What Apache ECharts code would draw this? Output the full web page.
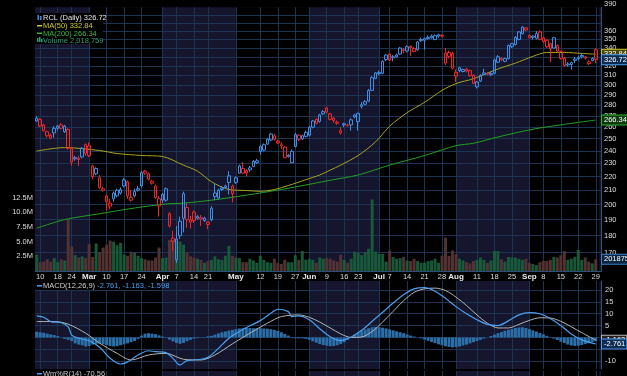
<!DOCTYPE html>
<html>
<head>
<meta charset="utf-8">
<script src="https://cdn.jsdelivr.net/npm/echarts@6.0.0/dist/echarts.min.js"></script>
<style>
  html, body { margin: 0; padding: 0; background: #000; }
  #chart { width: 627px; height: 376px; }
</style>
</head>
<body>
<div id="chart"></div>
<script>
// market holidays inside the window
const holidays = ['2025-02-17', '2025-04-18', '2025-05-26', '2025-06-19', '2025-07-04', '2025-09-01'];

function tradingDays(from, to) {
  const out = [];
  const d = new Date(from + 'T00:00:00Z');
  const end = new Date(to + 'T00:00:00Z');
  while (d <= end) {
    const s = d.toISOString().slice(0, 10);
    const wd = d.getUTCDay();
    if (wd !== 0 && wd !== 6 && holidays.indexOf(s) < 0) out.push(s);
    d.setUTCDate(d.getUTCDate() + 1);
  }
  return out;
}
// last slot (Sep 30) stays empty
const dates = tradingDays('2025-02-07', '2025-09-30');

const tickDates = ['2025-02-10', '2025-02-18', '2025-02-24', '2025-03-03', '2025-03-10', '2025-03-17', '2025-03-24',
  '2025-04-01', '2025-04-07', '2025-04-14', '2025-04-21', '2025-05-01', '2025-05-12', '2025-05-19', '2025-05-27',
  '2025-06-02', '2025-06-09', '2025-06-16', '2025-06-23', '2025-07-01', '2025-07-07', '2025-07-14', '2025-07-21',
  '2025-07-28', '2025-08-01', '2025-08-11', '2025-08-18', '2025-08-25', '2025-09-02', '2025-09-08', '2025-09-15',
  '2025-09-22', '2025-09-29'];
const tickText = ['10', '18', '24', 'Mar', '10', '17', '24', 'Apr', '7', '14', '21', 'May', '12', '19', '27',
  'Jun', '9', '16', '23', 'Jul', '7', '14', '21', '28', 'Aug', '11', '18', '25', 'Sep', '8', '15', '22', '29'];

// months drawn on black (the others are navy)
const blackMonths = [['2025-03-03', '2025-04-01'], ['2025-05-01', '2025-06-02'], ['2025-07-01', '2025-08-01'], ['2025-09-02', '2025-09-30']];

const priceGrid = [170, 180, 190, 200, 210, 220, 230, 240, 250, 260, 270, 280, 290, 300, 310, 320, 330, 340, 350, 360, 370, 380];
const priceLabels = [170, 180, 190, 200, 210, 220, 230, 240, 250, 260, 270, 280, 290, 300, 310, 320, 330, 340, 350, 360, 390];
const macdGridVals = [-10, -5, 0, 5, 10, 15, 20];
const macdLabelVals = [-10, 5, 10, 15, 20];

// [open, close, low, high]
const ohlc = [
  [265.5, 268, 264.5, 270], [267, 261, 260, 268], [262, 257, 256, 263], [256, 252.5, 251, 257], [253, 250.5, 249.5, 254.5],
  [255, 259, 251, 261], [259, 261, 257, 262], [262, 259, 258, 263.5], [256, 261, 255, 262], [258, 242, 241, 259],
  [242, 231, 228, 243], [233.5, 234.5, 232, 236], [234, 233, 228, 236], [235, 242, 234, 243], [245, 238, 236, 246],
  [244, 236, 235, 247], [228, 220, 218, 229], [222, 226, 221, 227], [219, 212, 211, 221], [211, 210, 209, 212.5],
  [206, 202, 196, 207], [199, 201, 197, 204], [208, 204, 202, 209], [210, 206, 205, 211], [208, 210.5, 207, 212],
  [213, 217.5, 212, 219], [216, 206, 204, 217], [203, 205, 202, 210], [206, 209, 205, 211], [210, 211, 209, 213],
  [213, 223, 212, 224], [224, 222.5, 221, 225], [222, 218, 217, 223], [216.5, 215, 214, 217.5], [213, 205, 204, 214],
  [199, 204, 192, 206], [203, 207, 201, 208], [203, 211, 202, 212], [194, 186, 185, 195], [178.5, 176.5, 171, 183],
  [166, 178, 164, 186], [189, 180, 178, 192], [191, 207.5, 182, 209], [198, 190, 185, 201], [188.5, 189.8, 184.5, 192.5],
  [195, 189.5, 188, 196], [191, 192, 190, 193], [191.5, 190.5, 186, 193], [189.5, 191, 188.5, 192], [188.5, 187, 184, 189],
  [190, 197.5, 189, 199], [208, 205.5, 203, 215], [204.5, 210, 203.5, 211], [210.5, 211.5, 209.5, 213], [212, 213, 211, 214],
  [220.5, 215.5, 207, 224], [213, 207.5, 201.5, 214], [215.5, 219, 214.5, 220], [222.5, 228, 222, 229], [222.5, 226, 222, 231],
  [224.5, 222.5, 220, 225.5], [225, 226.5, 223.5, 228], [227.5, 231.5, 227, 232.5], [230.5, 232, 229.5, 233.5], [243.5, 239.5, 237, 244.5],
  [240.5, 245, 239.5, 246], [245.5, 249.5, 245, 250.5], [249, 254, 248, 255], [249.5, 252.5, 248.5, 254], [248, 246.5, 245.5, 249],
  [245, 244, 241.5, 247], [243, 234.5, 234, 244], [235.5, 236.5, 234.5, 237.5], [230.5, 239.5, 230, 241], [243.5, 253.5, 243, 255],
  [253, 249.5, 248, 254], [250, 252.5, 249, 253.5], [252, 255.5, 251, 257], [253, 260, 252, 261], [260, 265.5, 259, 266.5],
  [267, 263.5, 262.5, 268], [265, 271, 264, 272], [272, 274, 271, 275.5], [277.5, 273.5, 272.5, 279], [272, 267, 266, 273],
  [268, 266, 264, 269], [264.5, 263.5, 262, 266], [255, 257, 253.5, 260], [262, 263, 260, 264], [262, 261.5, 260.5, 263],
  [262, 266.5, 257, 268], [269, 271, 268, 272], [265, 272.5, 257, 273], [279, 280.5, 277, 283], [281, 283.5, 280, 285],
  [284, 294.5, 283, 296], [294.5, 307.5, 294, 309], [306.5, 312.5, 306, 313.5], [311.5, 313, 310, 315], [312, 325, 311, 326],
  [327, 332, 325, 333], [333, 326.5, 325, 334], [329, 330, 325, 332], [330, 332, 329, 333.5], [333, 340, 332, 341],
  [338, 337, 334, 340], [336.5, 341.5, 335, 343], [342, 340.5, 331, 343], [336, 339.5, 335, 341], [338, 347, 337, 348],
  [350, 348.5, 347, 352], [351, 349, 338, 352], [351, 352.5, 350, 355], [352, 354, 351, 356], [350, 354.5, 349, 356],
  [354, 355.5, 352, 357], [355, 354, 352.5, 356], [323, 334, 321, 340], [335, 330.5, 328, 337], [334, 317.5, 316, 336],
  [309, 313, 303, 316], [318, 315, 313, 319], [314, 316, 313, 317], [316.5, 314.5, 313, 318], [315, 309.5, 308.5, 316],
  [310, 301.5, 301, 311], [298, 303, 296.5, 304], [304, 310, 303, 311], [311, 312.5, 310, 317], [312, 311, 310, 313],
  [310.5, 312, 309, 313.5], [312, 326.5, 311, 328], [324, 330, 323, 332], [328, 327, 325, 329.5], [325, 328, 324, 329],
  [328, 343, 327, 344], [341.5, 345, 340, 346], [344, 352.5, 343, 354], [350, 359, 349, 360], [357, 365, 356, 366],
  [364, 361.5, 360, 365], [355, 352, 351, 356], [352.5, 354, 350, 355], [351.5, 357, 350, 360], [359, 350, 349, 361],
  [352, 347.5, 346, 353], [349, 341.5, 340, 350], [345, 339.5, 324, 346], [340, 352, 339, 353], [343, 336.5, 335, 344],
  [336, 328, 327, 337], [328.5, 320.5, 319.5, 330], [321, 322, 319, 324], [321.5, 323.5, 316, 324.5], [326, 327.5, 323, 330],
  [328, 329, 326, 331], [330, 331.5, 328, 334], [330, 328.5, 327, 331], [322.5, 324.5, 321, 326], [326, 328, 325, 329.5],
  [338, 326.72, 323, 340]
];

// volume in millions
const volumeM = [
  2.8, 1.5, 1.6, 2.0, 1.6, 2.2, 1.5, 2.0, 1.8, 8.8, 4.2, 2.7, 2.3, 2.5, 2.2, 4.6, 2.4, 4.7, 3.2, 4.0,
  4.5, 5.2, 5.0, 4.4, 4.8, 2.8, 2.6, 3.3, 3.1, 2.6, 2.2, 2.0, 1.8, 1.8, 2.3, 4.0, 2.2, 2.3, 5.3, 5.3,
  5.2, 5.0, 4.5, 3.2, 2.5, 2.3, 2.1, 1.9, 1.4, 1.7, 1.9, 2.5, 2.0,
  1.9, 2.6, 4.3, 2.6, 2.3, 2.2, 1.5, 1.5, 2.1, 1.8, 1.4, 2.6, 1.9, 1.5, 1.4, 2.1, 1.4, 1.2, 1.9, 1.5,
  1.5, 2.7, 1.9, 3.4, 1.9, 2.1, 1.9, 1.4, 2.3, 2.1,
  2.2, 2.1, 1.8, 1.6, 2.8, 1.9, 1.4, 2.1, 3.3, 3.1, 2.7, 3.2, 3.8, 12.2, 3.3, 2.9, 2.9, 1.6, 3.5, 2.4,
  2.1, 2.2, 2.4, 1.8, 1.7, 2.1, 1.7, 1.4, 1.4, 1.7, 1.8, 2.1, 1.4, 2.6, 5.7, 2.6, 3.5, 2.9, 2.1, 1.8,
  1.5, 1.3, 1.7, 1.9, 2.3, 1.9, 1.4, 1.8, 3.4, 3.4, 2.0, 1.6, 2.4, 2.3, 2.3, 2.1, 1.9, 2.1, 1.4, 1.2,
  1.0, 1.5, 1.7, 1.7, 1.9, 2.4, 2.3, 2.7, 3.4, 1.9, 2.1, 2.4, 3.6, 1.9, 2.3, 1.6, 1.3, 2.018759
];

// moving averages read at sampled days: [day index, value]
const ma50Pts = [[0, 239.8], [8, 242.6], [18, 240.2], [23, 237.8], [30, 236.2], [36, 235.4], [42, 228.6], [46, 224],
  [50, 216.1], [55, 210.5], [60, 209.8], [64, 209.2], [68, 210.5], [72, 213.3], [77, 217.6], [81, 221.1], [84, 224.8],
  [87, 228.6], [92, 236.2], [97, 247.4], [101, 260.8], [106, 273.1], [111, 282.8], [116, 294.5], [120, 301.4],
  [125, 306.4], [132, 316.7], [137, 323], [142, 330.5], [146, 334.9], [151, 334.9], [156, 333.8], [160, 332.84]];
const ma200Pts = [[0, 184.6], [8, 190.1], [18, 193.9], [28, 197.7], [37, 200.4], [42, 201.0], [50, 203.0], [60, 206.5],
  [70, 210.5], [79, 214.7], [84, 217.2], [92, 221.1], [101, 228.6], [111, 236.2], [120, 244.2], [125, 246.2],
  [132, 251.5], [142, 258.2], [151, 262.5], [160, 266.34]];

const macdPts = [[0, 9.1], [2, 8.5], [4, 6.7], [7, 6.2], [9, 4.5], [10, 1.0], [12, -0.3], [15, -1.4], [18, -4.1],
  [21, -8.8], [24, -11.2], [26, -10.3], [29, -7.4], [32, -5.6], [34, -6.0], [37, -6.4], [39, -8.8], [41, -11.6],
  [43, -9.8], [47, -9.2], [49, -8.4], [52, -4.6], [55, -0.3], [58, 2.5], [61, 4.9], [64, 7.1], [67, 10.2], [69, 11.9],
  [72, 10.9], [73, 8.8], [75, 9.1], [78, 7.5], [81, 3.7], [84, 0.3], [87, -1.3], [90, 0.2], [93, 3.0], [96, 6.8],
  [99, 10.6], [102, 14.5], [105, 18.0], [108, 20.5], [111, 21.0], [114, 19.5], [117, 16.5], [120, 13.0], [123, 10.0],
  [126, 7.5], [129, 5.5], [132, 5.0], [135, 7.0], [138, 9.5], [141, 10.5], [144, 10.0], [147, 8.0], [150, 5.0],
  [153, 1.5], [156, -1.0], [160, -2.761]];
const signalPts = [[0, 6.7], [5, 6.7], [9, 5.6], [14, 1.8], [18, -2.4], [23, -6.7], [27, -9.5], [32, -7.4], [37, -6.7],
  [42, -9.2], [47, -9.5], [51, -7.4], [56, -2.7], [61, 1.8], [66, 6.0], [70, 8.8], [75, 9.5], [78, 8.5], [81, 6.5],
  [84, 4.0], [87, 1.5], [90, 0.0], [93, 0.2], [96, 2.5], [99, 6.5], [102, 11.0], [105, 15.5], [108, 19.0], [111, 20.5],
  [114, 20.8], [117, 19.8], [120, 17.0], [123, 13.5], [126, 9.5], [129, 6.0], [132, 4.0], [135, 4.0], [138, 5.5],
  [141, 7.2], [144, 8.3], [147, 8.2], [150, 6.8], [153, 4.5], [156, 2.0], [160, -1.163]];
const histVals = [
  2.4, 2.2, 2.0, 1.6, 1.3, 1.0, 0.6, 0.1, -0.6, -1.0, -1.5, -2.5, -3.0, -3.3, -3.8, -3.6, -3.0, -2.7, -2.6, -2.9,
  -3.2, -3.6, -3.8, -3.7, -3.3, -2.9, -2.5, -2.0, -1.5, -0.6, 0.8, 1.6, 1.8, 1.6, 1.4, 0.9, 0.4, -0.2, -0.9, -1.7,
  -2.3, -2.7, -2.3, -1.6, -1.0, -0.5, -0.3, -0.1, 0.2, 0.5, 0.7, 1.2, 1.7, 2.2, 2.5, 2.9, 3.2, 3.5, 3.8, 3.9,
  4.0, 4.0, 3.9, 3.9, 3.9, 3.8, 3.7, 3.5, 3.2, 2.8, 2.2, 1.5, 0.8, 0.2, -0.3, -0.4, -0.4, -0.6, -1.0, -1.6,
  -2.2, -2.8, -3.2, -3.5, -3.7, -3.6, -3.3, -2.8, -2.0, -1.0, 0.2, 1.2, 2.0, 2.8, 3.4, 3.9, 4.3, 4.4, 4.3, 4.1,
  3.8, 3.4, 3.0, 2.6, 2.2, 1.8, 1.3, 0.8, 0.4, 0.0, -0.4, -0.9, -1.4, -1.9, -2.4, -2.9, -3.3, -3.7, -4.0, -4.2,
  -4.1, -3.8, -3.4, -3.0, -2.5, -2.0, -1.5, -1.0, -0.5, 0.0, 0.6, 1.2, 1.8, 2.3, 2.8, 3.2, 3.6, 4.0, 4.2, 4.3,
  4.0, 3.5, 3.0, 2.5, 1.9, 1.3, 0.7, 0.1, -0.5, -1.1, -1.8, -2.4, -3.0, -3.4, -3.6, -3.5, -3.2, -2.8, -2.4, -2.0,
  -1.598
];

const BLUE = '#3d8fe6', RED = '#f42424', YEL = '#a8a41c', GRN = '#22a022';
const NAVY = '#15152e', GRIDC = '#1c3352', AXC = '#2c4f7a';
const FONT = 'Liberation Sans';
const lastClose = ohlc[ohlc.length - 1][1];
const lastVol = volumeM[volumeM.length - 1];

const candleData = ohlc.map(function (d, i) {
  const prev = i > 0 ? ohlc[i - 1][1] : d[0];
  const c = d[1] >= prev ? BLUE : RED;
  return { value: d, itemStyle: { color: 'rgba(0,0,0,0)', color0: c, borderColor: c, borderColor0: c } };
});
const volData = volumeM.map(function (v, i) {
  const prev = i > 0 ? ohlc[i - 1][1] : ohlc[0][0];
  const up = ohlc[i][1] >= prev;
  return { value: v * 1e6, itemStyle: { color: up ? 'rgba(26,96,60,0.9)' : 'rgba(86,52,52,0.95)' } };
});

const bandAreas = blackMonths.map(function (m) {
  return [{ xAxis: m[0] }, { xAxis: m[1] }];
});
const vLines = tickDates.map(function (d) { return { xAxis: d }; });
const emptyData = dates.map(function () { return null; });

function tag(text, border, bg, fg) {
  return {
    show: true, position: 'end', distance: 1, formatter: text, color: fg || '#fff',
    backgroundColor: bg, borderColor: border, borderWidth: 1, padding: [1, 1, 0, 2],
    fontFamily: FONT, fontSize: 7.5, lineHeight: 8, opacity: 1
  };
}
function tagLine(yVal, label) {
  return {
    silent: true, symbol: 'none', animation: false,
    lineStyle: { color: 'rgba(0,0,0,0)', width: 0.01, opacity: 1 },
    label: label, data: [{ yAxis: yVal }]
  };
}

const chart = echarts.init(document.getElementById('chart'), null, { renderer: 'canvas' });

const option = {
  backgroundColor: '#000',
  animation: false,
  grid: [
    { left: 35, right: 26, top: 0, height: 271, show: true, backgroundColor: NAVY, borderWidth: 0 },
    { left: 35, right: 26, top: 281, height: 88, show: true, backgroundColor: NAVY, borderWidth: 0 },
    { left: 35, right: 26, top: 371, height: 40, show: true, backgroundColor: NAVY, borderWidth: 0 }
  ],
  xAxis: [
    {
      type: 'category', gridIndex: 0, data: dates, boundaryGap: true,
      axisLine: { show: true, lineStyle: { color: AXC } }, axisTick: { show: false }, splitLine: { show: false },
      axisLabel: {
        interval: function (i, v) { return tickDates.indexOf(v) >= 0; },
        formatter: function (v) {
          const t = tickText[tickDates.indexOf(v)];
          return /^[A-Z]/.test(t) ? '{m|' + t + '}' : t;
        },
        color: '#dcdcdc', fontFamily: FONT, fontSize: 7.5, margin: 2,
        rich: { m: { fontWeight: 'bold', color: '#e8e8e8', fontFamily: FONT, fontSize: 8 } }
      }
    },
    { type: 'category', gridIndex: 1, data: dates, boundaryGap: true, show: false },
    { type: 'category', gridIndex: 2, data: dates, boundaryGap: true, show: false }
  ],
  yAxis: [
    // price scale (log) used by the marks
    { type: 'log', gridIndex: 0, position: 'right', min: 159.7, max: 390.3, show: false },
    // label companion on the same log scale
    {
      type: 'value', gridIndex: 0, position: 'right', min: Math.log10(159.7), max: Math.log10(390.3),
      axisLine: { show: true, lineStyle: { color: AXC } }, axisTick: { show: false }, splitLine: { show: false },
      axisLabel: {
        customValues: priceLabels.map(function (p) { return Math.log10(p); }),
        formatter: function (v) {
          const p = Math.round(Math.pow(10, v));
          return p === 390 ? '{t|390}' : String(p);
        },
        color: '#dcdcdc', fontFamily: FONT, fontSize: 7.5, margin: 3,
        rich: { t: { color: '#dcdcdc', fontFamily: FONT, fontSize: 7.5, padding: [0, 0, 7, 0] } }
      }
    },
    // volume
    {
      type: 'value', gridIndex: 0, position: 'left', min: 0, max: 45e6, interval: 2.5e6,
      axisLine: { show: false }, axisTick: { show: false }, splitLine: { show: false },
      axisLabel: {
        formatter: function (v) { return v > 0 && v <= 12.5e6 ? (v / 1e6).toFixed(1) + 'M' : ''; },
        color: '#dcdcdc', fontFamily: FONT, fontSize: 7.5, margin: 2
      }
    },
    // MACD
    {
      type: 'value', gridIndex: 1, position: 'right', min: -13.3, max: 23.8,
      axisLine: { show: true, lineStyle: { color: AXC } }, axisTick: { show: false }, splitLine: { show: false },
      axisLabel: { customValues: macdLabelVals, color: '#dcdcdc', fontFamily: FONT, fontSize: 7.5, margin: 4 }
    },
    { type: 'value', gridIndex: 2, min: -100, max: 0, show: false }
  ],
  series: [
    // backgrounds: black month bands
    {
      type: 'line', xAxisIndex: 0, yAxisIndex: 0, data: emptyData, z: 1, silent: true, symbol: 'none',
      markArea: { silent: true, itemStyle: { color: '#000' }, data: bandAreas }
    },
    {
      type: 'line', xAxisIndex: 1, yAxisIndex: 3, data: emptyData, z: 1, silent: true, symbol: 'none',
      markArea: { silent: true, itemStyle: { color: '#000' }, data: bandAreas }
    },
    {
      type: 'line', xAxisIndex: 2, yAxisIndex: 4, data: emptyData, z: 1, silent: true, symbol: 'none',
      markArea: { silent: true, itemStyle: { color: '#000' }, data: bandAreas }
    },
    // grid lines
    {
      type: 'line', xAxisIndex: 0, yAxisIndex: 0, data: emptyData, z: 2, silent: true, symbol: 'none',
      markLine: {
        silent: true, symbol: 'none', label: { show: false }, lineStyle: { color: GRIDC, width: 1, type: 'solid' },
        data: priceGrid.map(function (p) { return { yAxis: p }; }).concat(vLines)
      }
    },
    {
      type: 'line', xAxisIndex: 1, yAxisIndex: 3, data: emptyData, z: 2, silent: true, symbol: 'none',
      markLine: {
        silent: true, symbol: 'none', label: { show: false }, lineStyle: { color: GRIDC, width: 1, type: 'solid' },
        data: macdGridVals.map(function (v) { return { yAxis: v }; }).concat(vLines)
      }
    },
    {
      type: 'line', xAxisIndex: 2, yAxisIndex: 4, data: emptyData, z: 2, silent: true, symbol: 'none',
      markLine: {
        silent: true, symbol: 'none', label: { show: false }, lineStyle: { color: GRIDC, width: 1, type: 'solid' },
        data: vLines
      }
    },
    // volume
    {
      name: 'Volume', type: 'bar', xAxisIndex: 0, yAxisIndex: 2, data: volData, z: 6, barWidth: 3,
      markLine: tagLine(lastVol * 1e6, tag('2018759', '#3a7fc8', '#0c2440'))
    },
    // MAs
    {
      name: 'MA(200)', type: 'line', xAxisIndex: 0, yAxisIndex: 0, data: ma200Pts, z: 7, smooth: 0.3,
      symbol: 'none', lineStyle: { color: GRN, width: 1 },
      markLine: tagLine(266.34, tag('266.34', '#2fb02f', '#0f3a10'))
    },
    {
      name: 'MA(50)', type: 'line', xAxisIndex: 0, yAxisIndex: 0, data: ma50Pts, z: 7, smooth: 0.3,
      symbol: 'none', lineStyle: { color: YEL, width: 1 },
      markLine: tagLine(332.84, tag('332.84', '#c8c428', '#4a4808'))
    },
    {
      name: 'RCL', type: 'candlestick', xAxisIndex: 0, yAxisIndex: 0, data: candleData, z: 8, barWidth: 3,
      markLine: tagLine(lastClose, tag(lastClose.toFixed(2), '#4a9bf0', '#0d2c52'))
    },
    // MACD
    {
      name: 'Hist', type: 'bar', xAxisIndex: 1, yAxisIndex: 3, data: histVals, z: 6, barWidth: 3,
      itemStyle: { color: '#2c6fa8' }
    },
    {
      name: 'Signal', type: 'line', xAxisIndex: 1, yAxisIndex: 3, data: signalPts, z: 7, smooth: 0.3,
      symbol: 'none', lineStyle: { color: '#b4b4b4', width: 1 },
      markLine: tagLine(-1.163, tag('-1.163', '#bbbbbb', '#222'))
    },
    {
      name: 'MACD', type: 'line', xAxisIndex: 1, yAxisIndex: 3, data: macdPts, z: 8, smooth: 0.3,
      symbol: 'none', lineStyle: { color: '#4aa0ee', width: 1.2 },
      markLine: tagLine(-2.761, tag('-2.761', '#4a9bf0', '#0d2c52'))
    }
  ],
  graphic: [
    { type: 'rect', z: 100, shape: { x: 35, y: 13, width: 68, height: 31 }, style: { fill: '#000' } },
    { type: 'rect', z: 101, shape: { x: 37.5, y: 15, width: 1.5, height: 5 }, style: { fill: BLUE } },
    { type: 'rect', z: 101, shape: { x: 40, y: 16, width: 1.5, height: 4 }, style: { fill: BLUE } },
    { type: 'text', z: 101, x: 43, y: 18, style: { text: 'RCL (Daily) ' + lastClose.toFixed(2), fill: '#e4e4e4', font: '7.5px "' + FONT + '"', verticalAlign: 'middle' } },
    { type: 'rect', z: 101, shape: { x: 37, y: 25, width: 5, height: 1.5 }, style: { fill: '#d0cc20' } },
    { type: 'text', z: 101, x: 43, y: 26, style: { text: 'MA(50) 332.84', fill: '#d0cc20', font: '7.5px "' + FONT + '"', verticalAlign: 'middle' } },
    { type: 'rect', z: 101, shape: { x: 37, y: 32.5, width: 5, height: 1.5 }, style: { fill: '#33b833' } },
    { type: 'text', z: 101, x: 43, y: 33.5, style: { text: 'MA(200) 266.34', fill: '#33b833', font: '7.5px "' + FONT + '"', verticalAlign: 'middle' } },
    { type: 'rect', z: 101, shape: { x: 37, y: 38, width: 1.5, height: 4 }, style: { fill: '#2aa07a' } },
    { type: 'rect', z: 101, shape: { x: 39, y: 37, width: 1.5, height: 5 }, style: { fill: '#2aa07a' } },
    { type: 'rect', z: 101, shape: { x: 41, y: 39, width: 1.5, height: 3 }, style: { fill: '#2aa07a' } },
    { type: 'text', z: 101, x: 43, y: 40.5, style: { text: 'Volume 2,018,759', fill: '#2aa07a', font: '7.5px "' + FONT + '"', verticalAlign: 'middle' } },
    { type: 'rect', z: 100, shape: { x: 35, y: 281, width: 125, height: 9 }, style: { fill: '#000' } },
    { type: 'rect', z: 101, shape: { x: 37, y: 285, width: 5, height: 1.5 }, style: { fill: '#4aa0ee' } },
    {
      type: 'text', z: 101, x: 43, y: 286, style: {
        text: '{a|MACD(12,26,9)} {b|-2.761, -1.163, -1.598}', font: '7.5px "' + FONT + '"', verticalAlign: 'middle',
        rich: { a: { fill: '#d0d0d0', font: '7.5px "' + FONT + '"' }, b: { fill: '#4aa0ee', font: '7.5px "' + FONT + '"' } }
      }
    },
    { type: 'rect', z: 100, shape: { x: 35, y: 370, width: 62, height: 9 }, style: { fill: '#000' } },
    { type: 'rect', z: 101, shape: { x: 37, y: 373, width: 5, height: 1.5 }, style: { fill: '#4aa0ee' } },
    { type: 'text', z: 101, x: 43, y: 374, style: { text: 'Wm%R(14) -70.56', fill: '#c8c8c8', font: '7.5px "' + FONT + '"', verticalAlign: 'middle' } }
  ]
};

chart.setOption(option);
</script>
</body>
</html>
